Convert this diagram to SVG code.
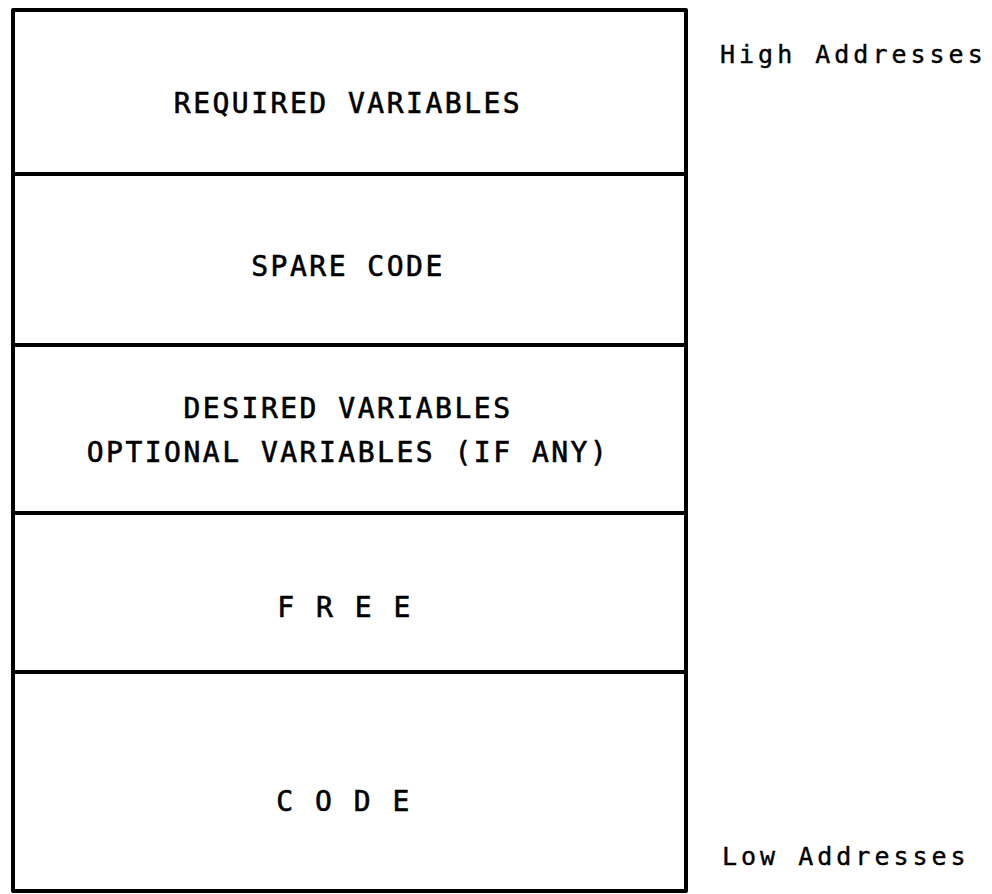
<svg xmlns="http://www.w3.org/2000/svg" width="992" height="894" viewBox="0 0 992 894">
<style>
.box{fill:none;stroke:#000;stroke-width:4;stroke-linejoin:round}
.div{stroke:#000;stroke-width:4}
.lbl{font-family:"DejaVu Sans Mono","Liberation Mono",monospace;font-size:28px;letter-spacing:2.5px;text-anchor:middle;fill:#000;stroke:#000;stroke-width:0.6}
.addr{font-family:"DejaVu Sans Mono","Liberation Mono",monospace;font-size:25px;letter-spacing:4px;fill:#000;stroke:#000;stroke-width:0.4}
</style>
<rect width="992" height="894" fill="#fff"/>
<g id="frame">
<rect class="box" x="13" y="10" width="673" height="881"/>
</g>
<g id="dividers">
<line class="div" x1="13" y1="174" x2="686" y2="174"/>
<line class="div" x1="13" y1="345" x2="686" y2="345"/>
<line class="div" x1="13" y1="513" x2="686" y2="513"/>
<line class="div" x1="13" y1="672" x2="686" y2="672"/>
</g>
<g id="required"><text class="lbl" x="348" y="113">REQUIRED VARIABLES</text></g>
<g id="spare"><text class="lbl" x="348" y="276">SPARE CODE</text></g>
<g id="desired">
<text class="lbl" x="348" y="418">DESIRED VARIABLES</text>
<text class="lbl" x="348" y="462">OPTIONAL VARIABLES (IF ANY)</text>
</g>
<g id="free"><text class="lbl" x="345" y="617">F R E E</text></g>
<g id="code"><text class="lbl" x="344" y="811">C O D E</text></g>
<g id="high"><text class="addr" x="720" y="63">High Addresses</text></g>
<g id="low"><text class="addr" x="722" y="865">Low Addresses</text></g>
</svg>
